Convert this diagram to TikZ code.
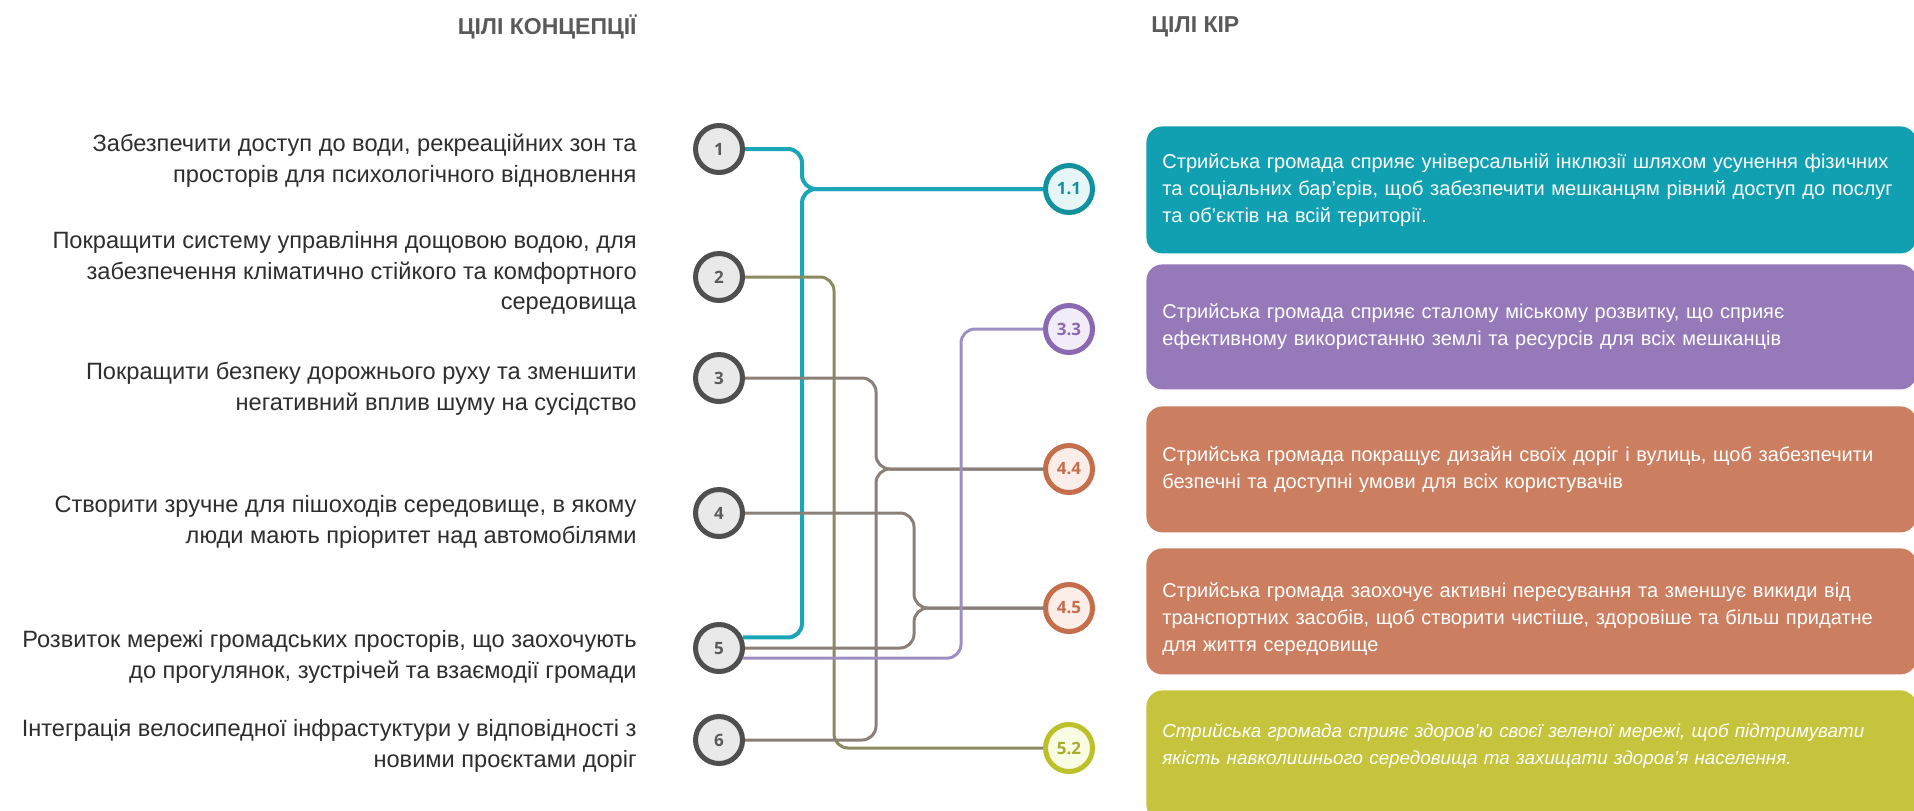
\documentclass[tikz,border=0pt]{standalone}
\usepackage{fontspec}
\setmainfont{Liberation Sans}
\newfontfamily\numfont{Open Sans}
\usepackage{tikz}
\usetikzlibrary{positioning,calc}
\definecolor{TealLine}{HTML}{1AA5B8}
\definecolor{TealDark}{HTML}{13919E}
\definecolor{TealTint}{HTML}{E6F5F6}
\definecolor{TealBox}{HTML}{11A0B1}
\definecolor{PurpleLine}{HTML}{9D8EC3}
\definecolor{PurpleDark}{HTML}{8A68B2}
\definecolor{PurpleTint}{HTML}{F2ECF8}
\definecolor{PurpleBox}{HTML}{9579B9}
\definecolor{RustDark}{HTML}{C56E4B}
\definecolor{RustTint}{HTML}{FBEEE8}
\definecolor{RustBox}{HTML}{CC7F60}
\definecolor{LimeDark}{HTML}{BCC12B}
\definecolor{LimeTint}{HTML}{FAFBE3}
\definecolor{LimeText}{HTML}{A8AC2E}
\definecolor{LimeBox}{HTML}{C6C43D}
\definecolor{OliveLine}{HTML}{8C8A60}
\definecolor{TaupeLine}{HTML}{8B8077}
\definecolor{RingGrey}{HTML}{4F4F4F}
\definecolor{RingFill}{HTML}{E9E9E9}
\definecolor{BodyText}{HTML}{2E2E2E}
\definecolor{HeadText}{HTML}{5A5A5A}

\begin{document}
\begin{tikzpicture}[
  x=0.5pt,y=-0.5pt,
  aim/.style={circle,draw=RingGrey,line width=2.5pt,fill=RingFill,
    minimum size=23.5pt,inner sep=0pt,text=HeadText,
    font=\numfont\bfseries\fontsize{8.5}{10}\selectfont},
  kip/.style={circle,line width=2.5pt,minimum size=23.5pt,inner sep=0pt,
    font=\numfont\bfseries\fontsize{8.5}{10}\selectfont},
  aimtext/.style={anchor=east,align=right,text=BodyText,inner sep=0pt,
    font=\fontsize{11.8}{15.4}\selectfont},
  kipbox/.style={anchor=north west,rounded corners=8pt,
    text width=369pt,inner xsep=8pt,align=left,text=white,
    font=\fontsize{10}{13.5}\selectfont},
  head/.style={inner sep=0pt,text=HeadText,
    font=\bfseries\fontsize{11.5}{14}\selectfont},
  link/.style={rounded corners=7pt,line width=1.5pt}
]
  \fill[white] (0,0) rectangle (1914,810);
  \useasboundingbox (0,0) rectangle (1914,810);
  \clip (0,0) rectangle (1914,810);

  \node[head,anchor=east] (h1) at (637,27) {ЦІЛІ КОНЦЕПЦІЇ};
  \node[head,anchor=west] (h2) at (1151,27) {ЦІЛІ КІР};

  \node[aimtext] (t1) at (637,161) {Забезпечити доступ до води, рекреаційних зон та\\просторів для психологічного відновлення};
  \node[aimtext] (t2) at (637,273) {Покращити систему управління дощовою водою, для\\забезпечення кліматично стійкого та комфортного\\середовища};
  \node[aimtext] (t3) at (637,389) {Покращити безпеку дорожнього руху та зменшити\\негативний вплив шуму на сусідство};
  \node[aimtext] (t4) at (637,522) {Створити зручне для пішоходів середовище, в якому\\люди мають пріоритет над автомобілями};
  \node[aimtext] (t5) at (637,657) {Розвиток мережі громадських просторів, що заохочують\\до прогулянок, зустрічей та взаємодії громади};
  \node[aimtext] (t6) at (637,746) {Інтеграція велосипедної інфрастуктури у відповідності з\\новими проєктами доріг};

  \node[aim] (c1) at (719,149) {1};
  \node[aim] (c2) at (719,277) {2};
  \node[aim] (c3) at (719,378) {3};
  \node[aim] (c4) at (719,513) {4};
  \node[aim] (c5) at (719,648) {5};
  \node[aim] (c6) at (719,740) {6};

  \node[kip,draw=TealDark,fill=TealTint,text=TealDark] (o11) at (1069,189) {1.1};
  \node[kip,draw=PurpleDark,fill=PurpleTint,text=PurpleDark] (o33) at (1069,329) {3.3};
  \node[kip,draw=RustDark,fill=RustTint,text=RustDark] (o44) at (1069,469) {4.4};
  \node[kip,draw=RustDark,fill=RustTint,text=RustDark] (o45) at (1069,608) {4.5};
  \node[kip,draw=LimeDark,fill=LimeTint,text=LimeText] (o52) at (1069,748) {5.2};

  \node[kipbox,fill=TealBox,minimum height=63.5pt] (k11) at (1146,126) {Стрийська громада сприяє універсальній інклюзії шляхом усунення фізичних\\та соціальних бар’єрів, щоб забезпечити мешканцям рівний доступ до послуг\\та об’єктів на всій території.};
  \node[kipbox,fill=PurpleBox,minimum height=62.5pt] (k33) at (1146,264) {Стрийська громада сприяє сталому міському розвитку, що сприяє\\ефективному використанню землі та ресурсів для всіх мешканців};
  \node[kipbox,fill=RustBox,minimum height=63pt] (k44) at (1146,406) {Стрийська громада покращує дизайн своїх доріг і вулиць, щоб забезпечити\\безпечні та доступні умови для всіх користувачів};
  \node[kipbox,fill=RustBox,minimum height=63pt] (k45) at (1146,548) {\strut\\[-8pt]Стрийська громада заохочує активні пересування та зменшує викиди від\\транспортних засобів, щоб створити чистіше, здоровіше та більш придатне\\для життя середовище};
  \node[kipbox,fill=LimeBox,minimum height=65pt,font=\itshape\fontsize{9.4}{13.5}\selectfont] (k52) at (1146,690) {Стрийська громада сприяє здоров'ю своєї зеленої мережі, щоб підтримувати\\якість навколишнього середовища та захищати здоров'я населення.\\[-6pt]\strut};

  \coordinate (b11) at (802,0);
  \coordinate (b52) at (834,0);
  \coordinate (b44) at (876,0);
  \coordinate (b45) at (914,0);
  \coordinate (b33) at (961,0);

  \draw[link,TealLine,line width=2pt] (c1.east) -| (b11 |- o11) -- (o11);
  \draw[link,TealLine,line width=2pt] (c5.24) -| (b11 |- o11) -- (o11);
  \draw[link,OliveLine] (c2.east) -| (b52 |- o52) -- (o52);
  \draw[link,TaupeLine] (c3.east) -| (b44 |- o44) -- (o44);
  \draw[link,TaupeLine] (c6.east) -| (b44 |- o44) -- (o44);
  \draw[link,TaupeLine] (c4.east) -| (b45 |- o45) -- (o45);
  \draw[link,TaupeLine] (c5.east) -| (b45 |- o45) -- (o45);
  \draw[link,PurpleLine] (c5.-23) -| (b33 |- o33) -- (o33);
\end{tikzpicture}
\end{document}
